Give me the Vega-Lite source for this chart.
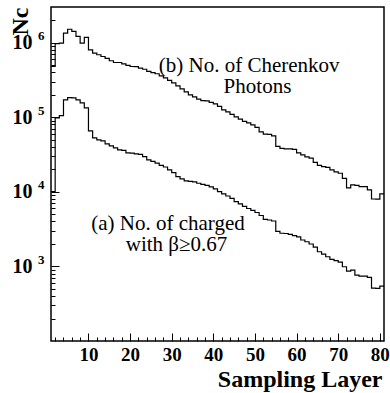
{
  "$schema": "https://vega.github.io/schema/vega-lite/v6.json",
  "width": 333,
  "height": 334,
  "autosize": {"type": "none"},
  "padding": {"left": 51, "top": 7, "right": 6, "bottom": 52},
  "background": "white",
  "config": {
    "view": {"stroke": "black", "strokeWidth": 1.5},
    "axis": {
      "domain": false, "grid": false,
      "labelFont": "Liberation Serif", "titleFont": "Liberation Serif",
      "labelFontWeight": "bold", "titleFontWeight": "bold",
      "labelColor": "black", "titleColor": "black", "tickColor": "black", "tickWidth": 1,
      "labelOverlap": false, "labelBound": false, "labelFlush": false
    }
  },
  "datasets": {
    "h": [
      {"x":1,"a":10040,"b":478000},{"x":2,"a":98000,"b":965000},{"x":3,"a":105200,"b":986000},{"x":4,"a":170900,"b":1343000},
      {"x":5,"a":183400,"b":1510000},{"x":6,"a":181800,"b":1411000},{"x":7,"a":170900,"b":1209000},{"x":8,"a":155700,"b":986000},
      {"x":9,"a":133500,"b":1172000},{"x":10,"a":65600,"b":801000},{"x":11,"a":52800,"b":724000},{"x":12,"a":49600,"b":687000},
      {"x":13,"a":48100,"b":651000},{"x":14,"a":43900,"b":616000},{"x":15,"a":41200,"b":571000},{"x":16,"a":38800,"b":541000},
      {"x":17,"a":36400,"b":541000},{"x":18,"a":35900,"b":520000},{"x":19,"a":33200,"b":496000},{"x":20,"a":32900,"b":478000},
      {"x":21,"a":32200,"b":475000},{"x":22,"a":31700,"b":455000},{"x":23,"a":29600,"b":439000},{"x":24,"a":26800,"b":412000},
      {"x":25,"a":25500,"b":397000},{"x":26,"a":24200,"b":382000},{"x":27,"a":22600,"b":359000},{"x":28,"a":21500,"b":337000},
      {"x":29,"a":19650,"b":312000},{"x":30,"a":18070,"b":289000},{"x":31,"a":15970,"b":263000},{"x":32,"a":14870,"b":240000},
      {"x":33,"a":13980,"b":219000},{"x":34,"a":13760,"b":199000},{"x":35,"a":13550,"b":187500},{"x":36,"a":13020,"b":174600},
      {"x":37,"a":12540,"b":167200},{"x":38,"a":12170,"b":166000},{"x":39,"a":11610,"b":158200},{"x":40,"a":10920,"b":151000},
      {"x":41,"a":10040,"b":139800},{"x":42,"a":9350,"b":125400},{"x":43,"a":8790,"b":117900},{"x":44,"a":8140,"b":109200},
      {"x":45,"a":7370,"b":101000},{"x":46,"a":6870,"b":94100},{"x":47,"a":6360,"b":87900},{"x":48,"a":5970,"b":83900},
      {"x":49,"a":5620,"b":78900},{"x":50,"a":5280,"b":73100},{"x":51,"a":4810,"b":63600},{"x":52,"a":4280,"b":59200},
      {"x":53,"a":4190,"b":59000},{"x":54,"a":4060,"b":56200},{"x":55,"a":2940,"b":40600},{"x":56,"a":2780,"b":38200},
      {"x":57,"a":2760,"b":37600},{"x":58,"a":2690,"b":37500},{"x":59,"a":2590,"b":37000},{"x":60,"a":2480,"b":33200},
      {"x":61,"a":2260,"b":31200},{"x":62,"a":2140,"b":29400},{"x":63,"a":1995,"b":28200},{"x":64,"a":1818,"b":24800},
      {"x":65,"a":1572,"b":22600},{"x":66,"a":1464,"b":21800},{"x":67,"a":1347,"b":21200},{"x":68,"a":1243,"b":19650},
      {"x":69,"a":1198,"b":18460},{"x":70,"a":1144,"b":17740},{"x":71,"a":989,"b":15100},{"x":72,"a":866,"b":11260},
      {"x":73,"a":893,"b":12350},{"x":74,"a":765,"b":12170},{"x":75,"a":742,"b":11720},{"x":76,"a":742,"b":11700},
      {"x":77,"a":713,"b":10590},{"x":78,"a":512,"b":8010},{"x":79,"a":507,"b":8000},{"x":80,"a":545,"b":9350},
      {"x":81,"a":545,"b":9350}
    ],
    "t": [
      {"x":48.6,"y":404000,"label":"(b) No. of Cherenkov"},
      {"x":50.6,"y":211000,"label":"Photons"},
      {"x":29.1,"y":3080,"label":"(a) No. of charged"},
      {"x":31.15,"y":1610,"label":"with β≥0.67"}
    ]
  },
  "layer": [
    {
      "data": {"name": "h"},
      "mark": {"type": "line", "interpolate": "step-after", "color": "black", "strokeWidth": 1.2},
      "encoding": {
        "x": {"field": "x", "type": "quantitative",
          "scale": {"domain": [1, 81], "nice": false, "zero": false},
          "axis": {"orient": "bottom", "values": [10,20,30,40,50,60,70,80], "tickSize": -8,
            "labelPadding": 12, "labelFontSize": 19, "format": "d",
            "title": "Sampling Layer", "titleFontSize": 24, "titleAlign": "right",
            "titleX": 331, "titleY": 45, "titleBaseline": "alphabetic"}},
        "y": {"field": "b", "type": "quantitative",
          "scale": {"type": "log", "domain": [100, 3000000], "nice": false},
          "axis": {"orient": "left", "values": [1000,10000,100000,1000000], "tickSize": -8,
            "labelPadding": 27, "labelFontSize": 20, "labelExpr": "'10'", "labelBaseline": "middle",
            "title": "Nc", "titleFontSize": 24, "titleAngle": -90, "titleAlign": "center",
            "titleX": -24, "titleY": 14, "titleBaseline": "alphabetic"}}
      }
    },
    {
      "data": {"name": "h"},
      "mark": {"type": "line", "interpolate": "step-after", "color": "black", "strokeWidth": 1.2},
      "encoding": {
        "x": {"field": "x", "type": "quantitative",
          "scale": {"domain": [1, 81], "nice": false, "zero": false},
          "axis": {"orient": "bottom", "values": [2,4,6,8,12,14,16,18,22,24,26,28,32,34,36,38,42,44,46,48,52,54,56,58,62,64,66,68,72,74,76,78],
            "tickSize": -4, "labels": false, "title": null}},
        "y": {"field": "a", "type": "quantitative",
          "scale": {"type": "log", "domain": [100, 3000000], "nice": false},
          "axis": {"orient": "left",
            "values": [200,300,400,500,600,700,800,900,2000,3000,4000,5000,6000,7000,8000,9000,20000,30000,40000,50000,60000,70000,80000,90000,200000,300000,400000,500000,600000,700000,800000,900000,2000000],
            "tickSize": -4, "labels": false, "title": null}}
      }
    },
    {
      "data": {"name": "h"},
      "mark": {"type": "line", "interpolate": "step-after", "color": "black", "opacity": 0},
      "encoding": {
        "x": {"field": "x", "type": "quantitative",
          "scale": {"domain": [1, 81], "nice": false, "zero": false}, "axis": null},
        "y": {"field": "a", "type": "quantitative",
          "scale": {"type": "log", "domain": [100, 3000000], "nice": false},
          "axis": {"orient": "left", "values": [1000,10000,100000,1000000], "ticks": false,
            "labelPadding": 7, "labelOffset": -7, "labelFontSize": 13, "labelBaseline": "middle",
            "labelExpr": "'' + round(log(datum.value) / LN10)", "title": null}}
      }
    },
    {
      "data": {"name": "t"},
      "mark": {"type": "text", "font": "Liberation Serif", "fontSize": 21, "color": "black", "align": "center", "baseline": "alphabetic"},
      "encoding": {
        "x": {"field": "x", "type": "quantitative",
          "scale": {"domain": [1, 81], "nice": false, "zero": false}, "axis": null},
        "y": {"field": "y", "type": "quantitative",
          "scale": {"type": "log", "domain": [100, 3000000], "nice": false}, "axis": null},
        "text": {"field": "label"}
      }
    }
  ],
  "resolve": {"scale": {"x": "shared", "y": "shared"}, "axis": {"x": "independent", "y": "independent"}}
}
